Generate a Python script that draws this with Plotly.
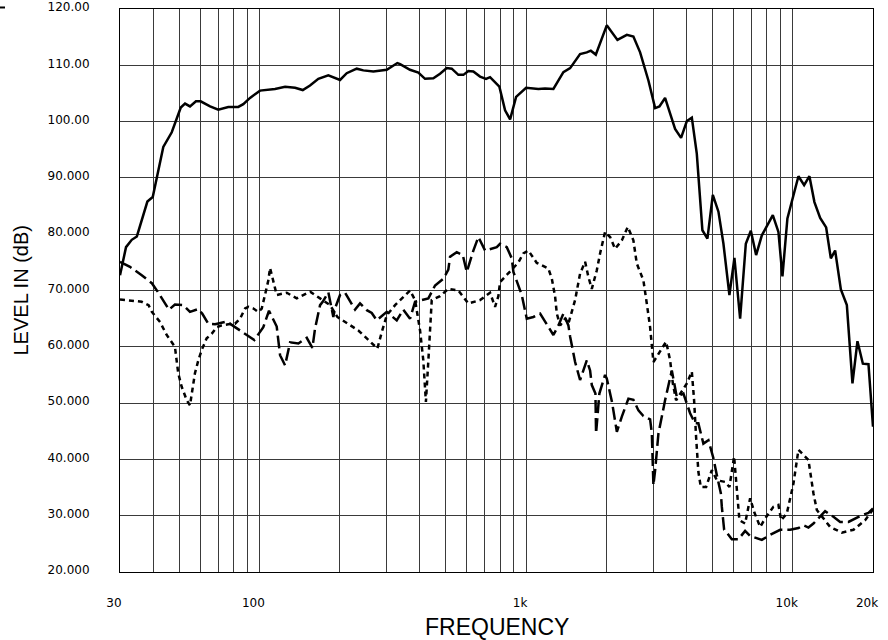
import plotly.graph_objects as go

# ---------------- data (frequency in Hz, level in dB) ----------------
freq_main = [30, 31.6, 33.2, 34.7, 38.0, 39.8, 43.6, 46.9, 50.7, 52.6, 54.9, 57.8, 60.2,
             65.3, 70.1, 76.4, 83.3, 87.0, 92.2, 100.5, 114.4, 124.8, 136, 145.4, 154.8,
             166.3, 181.3, 200.6, 212.5, 231.7, 245.3, 267.5, 300.3, 329, 337, 367,
             394.5, 417.8, 449, 475.7, 504, 526.3, 557.2, 581.9, 607.4, 634.3, 672,
             707.8, 732.7, 794, 834.1, 871.2, 917.4, 1000, 1112, 1178, 1266, 1380, 1463,
             1594, 1689, 1749, 1826, 2007, 2201, 2387, 2526, 2677, 2876, 3048, 3163,
             3321, 3621, 3813, 4008, 4184, 4367, 4584, 4787, 5015, 5265, 5497, 5788,
             6044, 6349, 6669, 6965, 7289, 7659, 8038, 8420, 8838, 9150, 9551, 10010,
             10505, 11035, 11550, 12061, 12672, 13345, 13898, 14423, 15153, 15958,
             16749, 17489, 18325, 19233, 20000]
level_main = [72.7, 77.7, 79.0, 79.6, 85.8, 86.6, 95.5, 98.1, 102.5, 103.2, 102.7, 103.6, 103.6,
              102.7, 102.1, 102.6, 102.6, 103.1, 104.2, 105.5, 105.8, 106.2, 106.0, 105.6, 106.4,
              107.6, 108.2, 107.4, 108.6, 109.4, 109.1, 108.9, 109.2, 110.4, 110.2, 109.2,
              108.7, 107.6, 107.7, 108.5, 109.5, 109.4, 108.3, 108.3, 109.0, 108.9, 108.0,
              107.6, 107.9, 106.2, 102.0, 100.4, 104.4, 106.0, 105.8, 105.9, 105.8, 108.8, 109.5,
              112.0, 112.3, 112.6, 111.9, 117.1, 114.5, 115.4, 115.1, 112.3, 107.3, 102.4, 102.7,
              104.2, 98.7, 97.1, 100.1, 100.7, 94.3, 80.7, 79.2, 87.0, 84.0, 78.3, 69.2,
              75.8, 65.0, 78.3, 80.6, 76.3, 79.8, 81.6, 83.4, 80.4, 72.5, 82.8, 86.6,
              90.3, 88.7, 90.3, 85.7, 82.9, 81.2, 75.7, 77.1, 70.2, 67.4,
              53.5, 61.0, 57.0, 56.9, 45.8]

freq_dash = [30, 32.7, 36.2, 39.5, 41.8, 44.3, 45.8, 48.2, 51.8, 54.9, 59.0, 61.0, 64.3, 68.2,
             75.4, 81.0, 89.6, 95.7, 103.4, 108.6, 116.1, 117.7, 119.5, 124.8, 130.3, 140,
             150.5, 158, 161.6, 168.8, 172.7, 181.3, 189.3, 192, 200.6, 209.5, 218.7, 228.4,
             238.4, 252.7, 263.8, 275.4, 300.3, 327.3, 346.5, 367.2, 383.4, 430.1, 455.7,
             489.5, 511, 518.7, 549.5, 578.8, 599.1, 634.3, 662.4, 701.8, 776.4, 798.7,
             846.5, 883.9, 896.2, 963.5, 1006, 1065, 1129, 1196, 1266, 1322, 1380, 1441,
             1463, 1527, 1594, 1689, 1738, 1764, 1820, 1830, 1883, 1978, 2007, 2100, 2190,
             2286, 2420, 2526, 2638, 2754, 2918, 2962, 3003, 3048, 3136, 3321, 3520, 3674,
             3891, 4122, 4304, 4427, 4623, 4828, 5042, 5193, 5375, 5421, 5531, 5661, 5910,
             6256, 6629, 6923, 7437, 7659, 8227, 8971, 9779, 10505, 10969, 11452, 11957,
             12672, 13229, 14214, 15063, 16179, 17142, 18169, 19233, 20000]
level_dash = [75.1, 74.2, 72.7, 71.3, 69.6, 67.8, 66.6, 67.5, 67.4, 66.2, 66.7, 65.9, 64.1, 64.0,
              64.5, 63.5, 62.1, 61.2, 63.5, 66.4, 63.6, 61.2, 58.5, 56.7, 60.8, 60.6,
              61.6, 59.8, 63.2, 67.4, 68.0, 69.7, 65.3, 66.8, 69.2, 69.6, 68.0, 66.6,
              67.7, 66.5, 66.0, 64.7, 66.2, 64.7, 66.6, 65.0, 68.0, 68.6, 70.9,
              72.1, 73.7, 76.0, 76.8, 76.3, 73.3, 77.1, 79.5, 77.1, 77.7, 78.3,
              77.7, 75.7, 73.3, 69.2, 65.0, 65.3, 65.9, 64.1, 62.1, 63.8, 65.9, 63.8,
              61.8, 57.3, 54.1, 57.6, 55.8, 53.2, 51.7, 44.6, 51.7, 55.0, 54.4, 50.2, 44.9,
              47.6, 50.8, 50.6, 48.7, 47.7, 47.1, 44.6, 35.4, 38.1, 44.6, 50.5, 55.8, 51.1,
              51.7, 48.2, 46.4, 46.4, 42.8, 43.4, 40.2, 37.2, 34.0, 31.6, 27.5, 27.0, 25.8,
              25.8, 27.3, 26.4, 26.0, 25.7, 26.6, 27.5, 27.5, 27.8, 28.3, 27.9, 28.6,
              29.9, 30.8, 29.8, 28.9, 28.9, 29.5, 30.1, 30.5, 31.3]

freq_dot = [30, 31.8, 36.2, 38.4, 39.5, 42.4, 44.9, 48.2, 49.0, 49.6, 51.1, 53.4, 54.9, 56.0,
            57.3, 59.0, 60.7, 63.4, 66.2, 69.2, 72.2, 76.4, 81.0, 84.6, 88.3, 90.9, 94.9,
            99.0, 102, 104.9, 108, 109.6, 112.7, 116.1, 126.6, 138, 150.5, 155, 168.8, 184,
            196, 218.7, 235, 252.7, 276.9, 287.6, 300.3, 322.6, 346.5, 367.2, 383.4, 400.3,
            411.7, 417.8, 421, 430.1, 436.4, 442.8, 475.7, 511, 557, 607.4, 672, 732.7,
            765.1, 787.2, 798.7, 846.5, 896, 936, 977, 1020, 1097, 1212, 1249, 1285, 1304,
            1342, 1401, 1441, 1527, 1594, 1665, 1713, 1764, 1842, 1895, 1978, 2066, 2157,
            2286, 2407, 2526, 2601, 2754, 2836, 2918, 3003, 3136, 3351, 3469, 3551, 3652,
            3837, 4008, 4184, 4267, 4341, 4427, 4521, 4733, 4972, 5193, 5578, 5788, 6028,
            6171, 6311, 6629, 6923, 7165, 7548, 7879, 8465, 8838, 9049, 9502, 10062,
            10505, 11452, 11957, 12314, 13815, 15285, 16895, 18691, 20000]
level_dot = [68.4, 68.3, 68.0, 67.4, 66.2, 64.4, 62.1, 60.0, 57.6, 55.3, 52.9, 50.5, 49.6, 52.3,
             55.3, 57.6, 59.4, 61.5, 62.3, 63.5, 63.8, 64.0, 64.1, 65.0, 66.8, 67.1, 66.8,
             66.2, 66.8, 69.2, 71.8, 74.0, 71.5, 69.2, 69.6, 68.6, 69.5, 69.8, 68.6, 67.4,
             65.3, 63.8, 62.9, 61.5, 59.7, 62.6, 65.6, 67.4, 68.9, 70.0, 68.3, 62.9,
             57.6, 53.0, 50.2, 57.6, 64.0, 68.3, 69.0, 70.3, 70.0, 67.7, 68.3, 69.6,
             67.1, 69.0, 71.5, 72.7, 74.0, 75.0, 76.6, 77.1, 74.9, 73.9, 72.1, 68.9, 65.9,
             63.8, 65.0, 64.1, 68.3, 73.0, 75.1, 72.4, 70.3, 73.6, 76.6, 80.4, 79.5, 77.4,
             78.9, 81.3, 78.9, 74.8, 71.8, 67.7, 63.5, 57.3, 58.8, 60.9, 57.6, 53.5, 50.5,
             52.0, 53.5, 55.6, 50.5, 44.0, 37.8, 35.1, 35.1, 38.1, 36.3, 36.0, 35.1, 40.5,
             34.6, 29.2, 28.6, 33.1, 30.7, 28.0, 29.5, 31.6, 31.9, 29.2, 30.4, 35.7,
             41.7, 39.9, 34.0, 31.0, 28.0, 27.0, 27.5, 29.2, 31.1]

x_tick_vals = [30, 100, 1000, 10000, 20000]
x_tick_text = ["30", "100", "1k", "10k", "20k"]
x_minor_vals = [40, 50, 60, 70, 80, 90, 200, 300, 400, 500, 600, 700, 800, 900,
                2000, 3000, 4000, 5000, 6000, 7000, 8000, 9000]
y_tick_vals = [20, 30, 40, 50, 60, 70, 80, 90, 100, 110, 120]
y_tick_text = ["20.000", "30.000", "40.000", "50.000", "60.000", "70.000", "80.000",
               "90.000", "100.00", "110.00", "120.00"]

# ---------------- figure ----------------
fig = go.Figure()
fig.add_trace(go.Scatter(x=freq_dot, y=level_dot, mode="lines",
                         line=dict(color="black", width=2.5, dash="5px,4px")))
fig.add_trace(go.Scatter(x=freq_dash, y=level_dash, mode="lines",
                         line=dict(color="black", width=2.5, dash="13px,5px")))
fig.add_trace(go.Scatter(x=freq_main, y=level_main, mode="lines",
                         line=dict(color="black", width=2.5)))

grid_col = "#3a3a3a"
tick_font = dict(family="DejaVu Sans", size=12, color="black")

fig.update_layout(
    width=888, height=640,
    margin=dict(l=120, r=15, t=9, b=68, autoexpand=False),
    paper_bgcolor="white", plot_bgcolor="white",
    showlegend=False,
    xaxis=dict(
        type="log", range=[1.4771, 4.30103],
        tickvals=x_tick_vals, ticktext=x_tick_text,
        tickfont=tick_font, ticks="", ticklabelstandoff=20, ticklabelshift=-6,
        showgrid=True, gridcolor=grid_col, gridwidth=1,
        minor=dict(tickvals=x_minor_vals, showgrid=True, gridcolor=grid_col, gridwidth=1, ticks=""),
        showline=True, mirror=True, linecolor="black", linewidth=1,
        zeroline=False, automargin=False,
    ),
    yaxis=dict(
        range=[20, 120],
        tickvals=y_tick_vals, ticktext=y_tick_text,
        tickfont=tick_font, ticks="", ticklabelstandoff=27, ticklabelshift=-2,
        showgrid=True, gridcolor=grid_col, gridwidth=1,
        showline=True, mirror=True, linecolor="black", linewidth=1,
        zeroline=False, automargin=False,
    ),
    annotations=[
        dict(text="FREQUENCY", xref="paper", yref="paper", x=0.5, y=-0.0976,
             xanchor="center", yanchor="middle", showarrow=False,
             font=dict(family="Liberation Sans", size=23, color="black")),
        dict(text="LEVEL IN (dB)", xref="paper", yref="paper", x=-0.1328, y=0.5,
             xanchor="center", yanchor="middle", textangle=-90, showarrow=False,
             font=dict(family="Liberation Sans", size=20, color="black")),
    ],
    shapes=[
        dict(type="line", xref="paper", yref="paper", x0=-0.1594, x1=-0.1527,
             y0=1.0027, y1=1.0027, line=dict(color="black", width=2)),
    ],
)

fig.write_html("out.html", config={"displayModeBar": False},
               post_script="document.body.style.margin='0px';document.body.style.overflow='hidden';")
